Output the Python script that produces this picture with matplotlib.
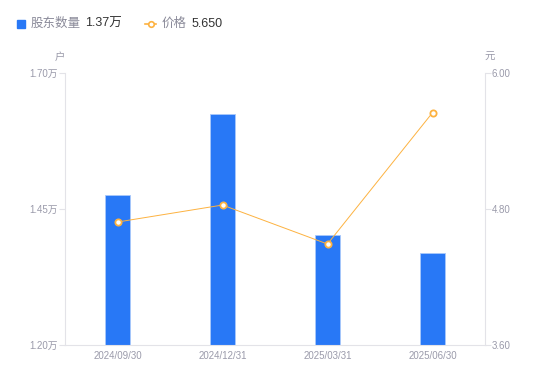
import matplotlib
matplotlib.use("Agg")
import matplotlib.pyplot as plt
from matplotlib.lines import Line2D

plt.rcParams['font.family'] = ['Liberation Sans', 'Noto Sans CJK SC', 'DejaVu Sans']

# 数据
dates = ['2024/09/30', '2024/12/31', '2025/03/31', '2025/06/30']
holders = [1.476, 1.625, 1.402, 1.37]   # 万户
price = [4.685, 4.835, 4.491, 5.650]    # 元
left_ticks = [1.20, 1.45, 1.70]
right_ticks = [3.60, 4.80, 6.00]

blue = '#2878F6'
orange = '#FDB240'
gray = '#9A9AAA'
axcol = '#E3E3E8'

fig = plt.figure(figsize=(5.5, 3.81), dpi=100)
ax = fig.add_axes([65/550, 36/381, 420/550, 272/381])
ax2 = ax.twinx()

x = list(range(len(dates)))
ax.bar(x, [h - left_ticks[0] for h in holders], bottom=left_ticks[0], width=0.238,
       color=blue, edgecolor='#A9C9FB', linewidth=0.6, zorder=2)
ax.set_xlim(-0.5, len(dates) - 0.5)
ax.set_ylim(left_ticks[0], left_ticks[-1])
ax.set_yticks(left_ticks)
ax.set_yticklabels([f'{v:.2f}万' for v in left_ticks])
ax.set_xticks(x)
ax.set_xticklabels(dates)

ax2.plot(x, price, color=orange, linewidth=0.7, marker='o', markersize=4.5,
         markerfacecolor='white', markeredgecolor=orange, markeredgewidth=1.3, zorder=3)
ax2.set_ylim(right_ticks[0], right_ticks[-1])
ax2.set_yticks(right_ticks)
ax2.set_yticklabels([f'{v:.2f}' for v in right_ticks])

for a in (ax, ax2):
    for s in a.spines.values():
        s.set_visible(False)
    a.tick_params(axis='y', colors=axcol, labelcolor=gray, labelsize=7, length=4, width=0.8, pad=1)
    a.tick_params(axis='x', length=0, labelcolor=gray, labelsize=7, pad=4)
ax.spines['left'].set_visible(True)
ax.spines['left'].set_color(axcol)
ax.spines['bottom'].set_visible(True)
ax.spines['bottom'].set_color(axcol)
ax2.spines['right'].set_visible(True)
ax2.spines['right'].set_color(axcol)

fig.text(60/550, 1 - 57/381, '户', color=gray, fontsize=7.5, ha='center', va='center')
fig.text(490/550, 1 - 57/381, '元', color=gray, fontsize=7.5, ha='center', va='center')

# 图例
fig.add_artist(Line2D([21/550], [1 - 24/381], marker='s', markersize=6, color=blue, linestyle='none'))
fig.text(31/550, 1 - 24/381, '股东数量', color='#8A8A99', fontsize=9, va='center')
fig.text(85/550, 1 - 24/381, f'{holders[-1]:.2f}万', color='#333333', fontsize=9, va='center')
fig.add_artist(Line2D([145/550, 156/550], [1 - 24/381] * 2, color=orange, linewidth=1.2))
fig.add_artist(Line2D([150.5/550], [1 - 24/381], marker='o', markersize=4, markerfacecolor='white',
                      markeredgecolor=orange, markeredgewidth=1.2, linestyle='none'))
fig.text(162/550, 1 - 24/381, '价格', color='#8A8A99', fontsize=9, va='center')
fig.text(192/550, 1 - 24/381, f'{price[-1]:.3f}', color='#333333', fontsize=9, va='center')

fig.savefig('out.png', dpi=100)
